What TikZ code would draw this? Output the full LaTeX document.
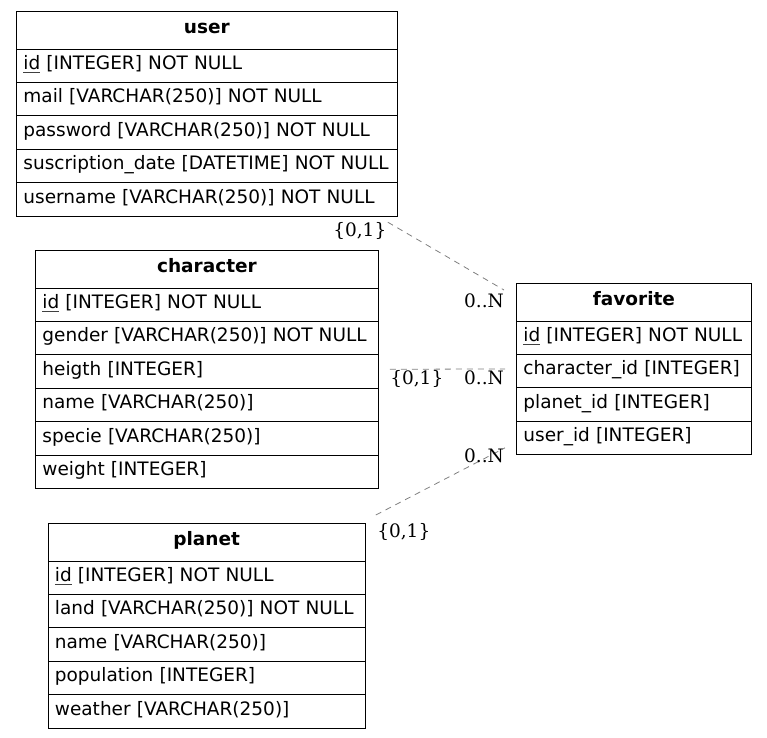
\documentclass[tikz,border=0pt]{standalone}
\usepackage{fontspec}
\setmainfont{DejaVu Sans}
\newfontfamily\cardfont{DejaVu Serif}
\usetikzlibrary{matrix}
\newcommand\pk[1]{\setbox0\hbox{#1}\rlap{\color{darkgray}\rule[-2.6pt]{\wd0}{0.5pt}}\box0\relax}

\begin{document}
\begin{tikzpicture}[x=1pt,y=-1pt,
        table/.style={matrix of nodes, inner sep=0pt, anchor=north west, row sep=-\pgflinewidth,
        nodes={draw, text width=#1, inner xsep=7pt, inner ysep=0pt, minimum height=33.4pt, align=left, anchor=center,
        text height=14pt, text depth=6pt, font=\fontsize{18.5}{22}\selectfont},
        row 1/.style={nodes={minimum height=37.4pt, align=center, text depth=6.7pt, font=\fontsize{18.5}{22}\selectfont\bfseries}}},
        rel/.style={draw=gray, line width=0.8pt, dash pattern=on 6pt off 5pt},
        card/.style={inner sep=0pt, font=\cardfont\fontsize{18.5}{22}\selectfont}]
        \useasboundingbox (0,0) rectangle (767,737);
        \matrix[table=367pt] (user) at (16,11) {
        user \\ \pk{id} [INTEGER] NOT NULL \\ mail [VARCHAR(250)] NOT NULL \\
        password [VARCHAR(250)] NOT NULL \\ suscription\_date [DATETIME] NOT NULL \\ username [VARCHAR(250)] NOT NULL \\};
        \matrix[table=329pt] (character) at (35,250) {
        character \\ \pk{id} [INTEGER] NOT NULL \\ gender [VARCHAR(250)] NOT NULL \\ heigth [INTEGER] \\
        name [VARCHAR(250)] \\ specie [VARCHAR(250)] \\ weight [INTEGER] \\};
        \matrix[table=221pt] (favorite) at (516,283) {
        favorite \\ \pk{id} [INTEGER] NOT NULL \\ character\_id [INTEGER] \\ planet\_id [INTEGER] \\ user\_id [INTEGER] \\};
        \matrix[table=303.5pt] (planet) at (47.5,523) {
        planet \\ \pk{id} [INTEGER] NOT NULL \\ land [VARCHAR(250)] NOT NULL \\ name [VARCHAR(250)] \\
        population [INTEGER] \\ weather [VARCHAR(250)] \\};
        % relations to favorite
        \draw[rel] ([shift={(-10,6)}]user.south east) -- ([shift={(-12,7)}]favorite.north west)
            node[card, pos=0, shift={(-28,9)}] (user-one) {\{0,1\}}
            node[card, pos=1, shift={(-20,11)}] (user-many) {0..N};
        \draw[rel] ([shift={(11,0)}]character.east) -- ([shift={(-11,0)}]favorite.west)
            node[card, pos=0, shift={(27,10)}] (character-one) {\{0,1\}}
            node[card, pos=1, shift={(-21,9)}] (character-many) {0..N};
        \draw[rel] ([shift={(10,-8)}]planet.north east) -- ([shift={(-11,-7)}]favorite.south west)
            node[card, pos=0, shift={(28,17)}] (planet-one) {\{0,1\}}
            node[card, pos=1, shift={(-21,8)}] (planet-many) {0..N};
    \end{tikzpicture}
\end{document}
